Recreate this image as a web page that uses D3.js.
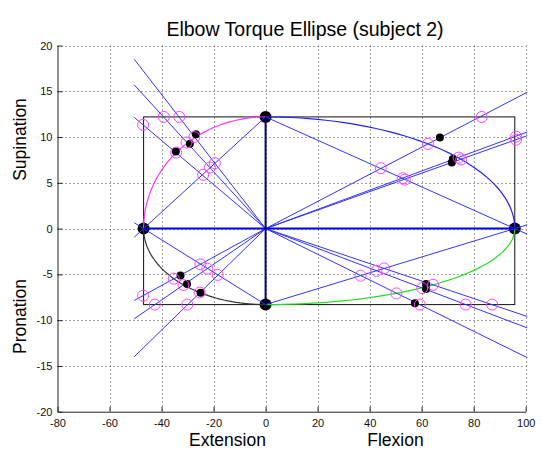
<!DOCTYPE html>
<html>
<head>
<meta charset="utf-8">
<script src="https://cdn.jsdelivr.net/npm/d3@7"></script>
<style>
  html, body { margin: 0; padding: 0; background: #fff; }
  svg text { font-family: "Liberation Sans", Arial, sans-serif; }
</style>
</head>
<body>
<svg id="chart" width="542" height="449"></svg>
<script>
// ---------------- data ----------------
const xTicks = [-80, -60, -40, -20, 0, 20, 40, 60, 80, 100];
const yTicks = [-20, -15, -10, -5, 0, 5, 10, 15, 20];

// ellipse extremes: extension, supination, flexion, pronation
const extremeX = [-46.9, 0, 95.8, 0];
const extremeY = [0, 12.2, 0, -8.3];

// radial lines from the origin (end points)
const rayEndX = [-50.5, -50.5, -50.5, -50.5, -50.5, -50.5, 100.6, 100.6, 100.6, 100.6, 100.6, 100.6];
const rayEndY = [18.5, 15.7, 12.15, -7.85, -9.85, -14.0, 14.9, 10.55, 10.15, -9.6, -10.85, -14.1];

// chord extension limits
const chordExtX = [-50.5, 100.6];

// measured points (black dots)
const dotX = [-26.8, -29.1, -34.5, 67.0, 71.6, 72.0, -32.7, -30.2, -25.0, 57.4, 61.7, 61.7];
const dotY = [10.3, 9.26, 8.42, 9.95, 7.22, 7.6, -5.13, -6.05, -7.0, -8.16, -6.04, -6.6];

// intersection markers (magenta circles)
const ringX = [-47.1, -39.1, -33.2, -24.0, -21.4, -19.5, -27.4, -30.4, -34.4,
               83.1, 96.3, 96.3, 44.3, 52.7, 53.5, 62.4, 74.2, 75.2,
               -47.1, -42.6, -30.1, -25.1, -22.4, -18.4, -35.3, -31.6, -25.3,
               36.5, 42.6, 45.6, 50.3, 60.2, 64.4, 59.3, 76.9, 87.1];
const ringY = [11.33, 12.2, 12.2, 5.87, 6.67, 7.15, 10.0, 9.4, 8.3,
               12.2, 10.05, 9.7, 6.6, 5.5, 5.35, 9.25, 7.75, 7.55,
               -7.33, -8.3, -8.3, -3.9, -4.37, -5.06, -5.47, -6.17, -6.99,
               -5.15, -4.62, -4.35, -7.08, -6.5, -6.14, -8.3, -8.3, -8.3];

const quadColors = ["#ff33ff", "#2222ff", "#333333", "#22dd22"]; // TL, TR, BL, BR
const titleText = "Elbow Torque Ellipse (subject 2)";

// ---------------- drawing ----------------
const svg = d3.select("#chart");
const x = d3.scaleLinear().domain([-80, 100]).range([57.5, 525.7]);
const y = d3.scaleLinear().domain([-20, 20]).range([411.7, 45.5]);

// grid
const grid = svg.append("g").attr("stroke", "#444").attr("stroke-width", 1)
  .attr("stroke-dasharray", "1,3").attr("fill", "none");
grid.selectAll(".gx").data(xTicks.slice(1)).join("line")
  .attr("x1", d => Math.round(x(d)) + 0.5).attr("x2", d => Math.round(x(d)) + 0.5)
  .attr("y1", y(20)).attr("y2", y(-20));
grid.selectAll(".gy").data(yTicks.slice(1)).join("line")
  .attr("y1", d => Math.round(y(d)) + 0.5).attr("y2", d => Math.round(y(d)) + 0.5)
  .attr("x1", x(-80)).attr("x2", x(100));

// axes
const fmt = d => String(d);
const xAxis = d3.axisBottom(x).tickValues(xTicks).tickFormat(fmt).tickSizeInner(-5).tickSizeOuter(0).tickPadding(8);
const yAxis = d3.axisLeft(y).tickValues(yTicks).tickFormat(fmt).tickSizeInner(-5).tickSizeOuter(0).tickPadding(5);
const gx = svg.append("g").attr("transform", `translate(0,${y(-20)})`).call(xAxis);
const gy = svg.append("g").attr("transform", `translate(${x(-80)},0)`).call(yAxis);
[gx, gy].forEach(g => {
  g.select(".domain").attr("stroke", "#222");
  g.selectAll(".tick line").attr("stroke", "#222");
  g.selectAll("text").attr("font-size", 11).attr("fill", "#111")
    .attr("font-family", "Liberation Sans, Arial, sans-serif");
});

// rectangle
svg.append("rect")
  .attr("x", x(extremeX[0])).attr("y", y(extremeY[1]))
  .attr("width", x(extremeX[2]) - x(extremeX[0]))
  .attr("height", y(extremeY[3]) - y(extremeY[1]))
  .attr("fill", "none").attr("stroke", "#111").attr("stroke-width", 1);

// big extreme dots
svg.append("g").selectAll("circle").data(extremeX).join("circle")
  .attr("cx", d => x(d)).attr("cy", (d, i) => y(extremeY[i]))
  .attr("r", 6).attr("fill", "#000");

// quarter ellipses
const quads = [[extremeX[0], extremeY[1]], [extremeX[2], extremeY[1]], [extremeX[0], extremeY[3]], [extremeX[2], extremeY[3]]];
const angles = d3.range(0, 91, 2).map(a => a * Math.PI / 180);
const line = d3.line().x(d => x(d[0])).y(d => y(d[1]));
quads.forEach((q, i) => {
  const pts = angles.map(t => [q[0] * Math.cos(t), q[1] * Math.sin(t)]);
  svg.append("path").attr("d", line(pts)).attr("fill", "none")
    .attr("stroke", quadColors[i]).attr("stroke-width", 1.2);
});

// radial lines
svg.append("g").selectAll("line").data(rayEndX).join("line")
  .attr("x1", x(0)).attr("y1", y(0))
  .attr("x2", d => x(d)).attr("y2", (d, i) => y(rayEndY[i]))
  .attr("stroke", "#3333ff").attr("stroke-width", 1);

// chords (extended through the extreme points)
quads.forEach(q => {
  const ext = q[0] < 0 ? chordExtX[0] : chordExtX[1];
  const yEnd = q[1] * (1 - ext / q[0]);
  svg.append("line").attr("x1", x(0)).attr("y1", y(q[1]))
    .attr("x2", x(ext)).attr("y2", y(yEnd))
    .attr("stroke", "#3333ff").attr("stroke-width", 1);
});

// bold principal axes
svg.append("line").attr("x1", x(extremeX[0])).attr("x2", x(extremeX[2]))
  .attr("y1", y(0)).attr("y2", y(0)).attr("stroke", "#0000ee").attr("stroke-width", 2);
svg.append("line").attr("x1", x(0)).attr("x2", x(0))
  .attr("y1", y(extremeY[3])).attr("y2", y(extremeY[1])).attr("stroke", "#000070").attr("stroke-width", 2);

// black measured dots
svg.append("g").selectAll("circle").data(dotX).join("circle")
  .attr("cx", d => x(d)).attr("cy", (d, i) => y(dotY[i]))
  .attr("r", 4).attr("fill", "#000");

// magenta rings
svg.append("g").selectAll("circle").data(ringX).join("circle")
  .attr("cx", d => x(d)).attr("cy", (d, i) => y(ringY[i]))
  .attr("r", 5.5).attr("fill", "none").attr("stroke", "#ff44ff").attr("stroke-width", 1);

// texts
svg.append("text").attr("x", 305).attr("y", 35.5).attr("text-anchor", "middle")
  .attr("font-size", 19.5).attr("fill", "#000").text(titleText);
svg.append("text").attr("x", 227.5).attr("y", 446).attr("text-anchor", "middle")
  .attr("font-size", 17.5).attr("fill", "#000").text("Extension");
svg.append("text").attr("x", 395.5).attr("y", 446).attr("text-anchor", "middle")
  .attr("font-size", 17.5).attr("fill", "#000").text("Flexion");
svg.append("text").attr("transform", "translate(26,139.5) rotate(-90)").attr("text-anchor", "middle")
  .attr("font-size", 17.5).attr("fill", "#000").text("Supination");
svg.append("text").attr("transform", "translate(26,316.5) rotate(-90)").attr("text-anchor", "middle")
  .attr("font-size", 17.5).attr("fill", "#000").text("Pronation");
</script>
</body>
</html>
